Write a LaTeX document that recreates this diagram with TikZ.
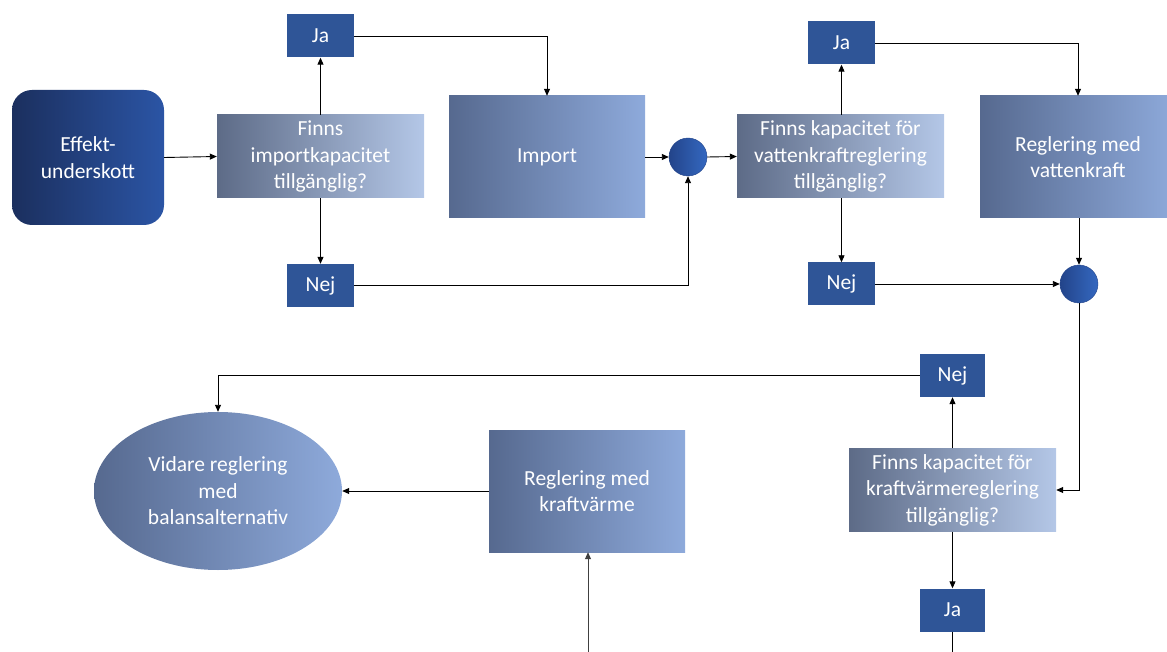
\documentclass[tikz,border=0pt]{standalone}
\usepackage{fontspec}
\setmainfont{Carlito}
\usetikzlibrary{arrows.meta,shapes.geometric}
\definecolor{boxblue}{HTML}{2F5597}
\definecolor{effL}{HTML}{1B2F5E}
\definecolor{effR}{HTML}{2B55A5}
\definecolor{qL}{HTML}{5D6B87}
\definecolor{qR}{HTML}{B4C7E7}
\definecolor{bL}{HTML}{56698F}
\definecolor{bR}{HTML}{8EAADB}
\definecolor{cL}{HTML}{23448A}
\definecolor{cR}{HTML}{3468C0}
\tikzset{
  txt/.style={text=white, font=\fontsize{21.5}{26.5}\selectfont, align=center, inner sep=0pt},
  start/.style={txt, rounded corners=20pt, left color=effL, right color=effR, minimum width=152pt, minimum height=135pt},
  question/.style={txt, left color=qL, right color=qR, minimum width=207pt, minimum height=83pt},
  action/.style={txt, left color=bL, right color=bR, minimum width=196pt, minimum height=122pt},
  answer/.style={txt, fill=boxblue, minimum width=67pt, minimum height=43pt},
  merge/.style={circle, left color=cL, right color=cR, draw=cL, line width=0.4pt, minimum size=38pt, inner sep=0pt},
  final/.style={txt, ellipse, left color=bL, right color=bR, minimum width=248pt, minimum height=158pt},
  flow/.style={draw=black, line width=0.9pt, -{Triangle[length=7pt,width=6pt]}},
}
\begin{document}
\begin{tikzpicture}[x=1pt,y=-1pt]
\useasboundingbox (0,0) rectangle (1167,652);

% nodes
\node[start] (eff) at (88,157.5) {Effekt-\\underskott};
\node[question] (q1) at (320.5,156.5) {Finns\\importkapacitet\\tillgänglig?};
\node[answer] (ja1) at (320.5,36) {Ja};
\node[answer] (nej1) at (320.5,285.5) {Nej};
\node[action] (imp) at (547,157) {Import};
\node[merge] (c1) at (688,157) {};
\node[question] (q2) at (840.5,156.5) {Finns kapacitet för\\vattenkraftreglering\\tillgänglig?};
\node[answer] (ja2) at (841.5,43) {Ja};
\node[answer] (nej2) at (841.5,284) {Nej};
\node[action] (vk) at (1078,157) {Reglering med\\vattenkraft};
\node[merge] (c2) at (1079,284) {};
\node[answer, minimum width=65pt] (nej3) at (952.5,375.5) {Nej};
\node[question] (q3) at (952.5,490) {Finns kapacitet för\\kraftvärmereglering\\tillgänglig?};
\node[answer, minimum width=65pt] (ja3) at (952.5,610) {Ja};
\node[action] (kv) at (587,491) {Reglering med\\kraftvärme};
\node[final] (vid) at (218,491) {Vidare reglering\\med\\balansalternativ};
\coordinate (endja3) at (952.5,652);
\coordinate (startkv) at (588,652);

% connectors
\draw[flow] (eff.east) -- (q1.west);
\draw[flow] (q1.north) -- (ja1.south);
\draw[flow] (ja1.east) -| (imp.north);
\draw[flow] (q1.south) -- (nej1.north);
\draw[flow] (nej1.east) -| (c1.south);
\draw[flow] (imp.east) -- (c1.west);
\draw[flow] (c1.east) -- (q2.west);
\draw[flow] (q2.north -| ja2) -- (ja2.south);
\draw[flow] (ja2.east) -| (vk.north);
\draw[flow] (q2.south -| nej2) -- (nej2.north);
\draw[flow] (nej2.east) -- (c2.west);
\draw[flow] (vk.south -| c2) -- (c2.north);
\draw[flow] (c2.south) |- (q3.east);
\draw[flow] (q3.north) -- (nej3.south);
\draw[flow] (nej3.west) -| (vid.north);
\draw[flow] (q3.south) -- (ja3.north);
\draw[line width=0.9pt] (ja3.south) -- (endja3);
\draw[flow] (kv.west) -- (vid.east);
\draw[flow, draw=black!75] (startkv) -- (kv.south -| startkv);
\end{tikzpicture}
\end{document}
